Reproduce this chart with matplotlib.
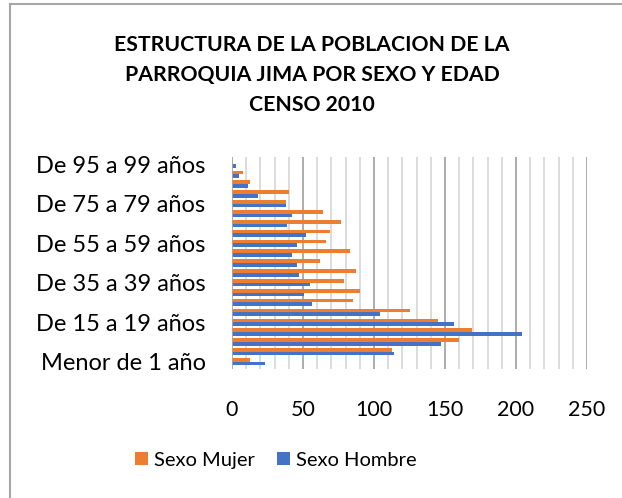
import numpy as np
import matplotlib
matplotlib.use("Agg")
import matplotlib.pyplot as plt
from matplotlib.lines import Line2D

plt.rcParams['font.family'] = ['Lato', 'DejaVu Sans']

# grupos de edad (de abajo hacia arriba)
grupos = ['Menor de 1 año', 'De 1 a 4 años', 'De 5 a 9 años', 'De 10 a 14 años',
          'De 15 a 19 años', 'De 20 a 24 años', 'De 25 a 29 años', 'De 30 a 34 años',
          'De 35 a 39 años', 'De 40 a 44 años', 'De 45 a 49 años', 'De 50 a 54 años',
          'De 55 a 59 años', 'De 60 a 64 años', 'De 65 a 69 años', 'De 70 a 74 años',
          'De 75 a 79 años', 'De 80 a 84 años', 'De 85 a 89 años', 'De 90 a 94 años',
          'De 95 a 99 años']
mujer = [13, 113, 160, 169, 145, 125, 85, 90, 79, 87, 62,
         83, 66, 69, 77, 64, 38, 40, 13, 8, 1]
hombre = [23, 114, 147, 204, 156, 104, 56, 51, 55, 47, 46,
          42, 46, 52, 39, 42, 38, 18, 11, 5, 3]

naranja = '#ED7D31'
azul = '#4472C4'

fig = plt.figure(figsize=(6.22, 4.98), dpi=100)
ax = fig.add_axes([232/622, 1 - 369/498, (587-232)/622, (369-157)/498])

y = np.arange(len(grupos))
h = 0.37
ax.barh(y + h/2, mujer, height=h, color=naranja, label='Sexo Mujer', zorder=3)
ax.barh(y - h/2, hombre, height=h, color=azul, label='Sexo Hombre', zorder=3)

ax.set_xlim(0, 250)
ax.set_ylim(-0.75, len(grupos) - 0.25)

# lineas de cuadricula
for v in range(10, 251, 10):
    c = '#A6A6A6' if v % 50 == 0 else '#D9D9D9'
    ax.axvline(v, color=c, lw=1.3, zorder=1)
ax.axvline(0, color='#A6A6A6', lw=1.3, zorder=4)

ax.set_yticks(y[::4])
ax.set_yticklabels(grupos[::4], fontsize=17)
ax.set_xticks(range(0, 251, 50))
ax.tick_params(axis='x', labelsize=15.5, length=0, pad=22)
ax.tick_params(axis='y', length=0, pad=19)
for s in ax.spines.values():
    s.set_visible(False)

fig.text(0.502, 1 - 45/498, 'ESTRUCTURA DE LA POBLACION DE LA', ha='center', va='center',
         fontsize=15.3, fontweight='bold')
fig.text(0.502, 1 - 75/498, 'PARROQUIA JIMA POR SEXO Y EDAD', ha='center', va='center',
         fontsize=15.3, fontweight='bold')
fig.text(0.502, 1 - 105/498, 'CENSO 2010', ha='center', va='center',
         fontsize=15.3, fontweight='bold')

ax.legend(loc='center', bbox_to_anchor=(0.124, -0.43),
          bbox_transform=ax.transAxes, ncol=2, frameon=False, fontsize=14.5,
          handlelength=0.65, handleheight=0.65, handletextpad=0.3, columnspacing=1.1)

# borde del area del grafico
fig.add_artist(Line2D([10/622, 10/622], [0, 1 - 4/498], color='#A6A6A6', lw=1.5))
fig.add_artist(Line2D([10/622, 1], [1 - 4/498, 1 - 4/498], color='#A6A6A6', lw=1.5))

fig.savefig('out.png', dpi=100)
